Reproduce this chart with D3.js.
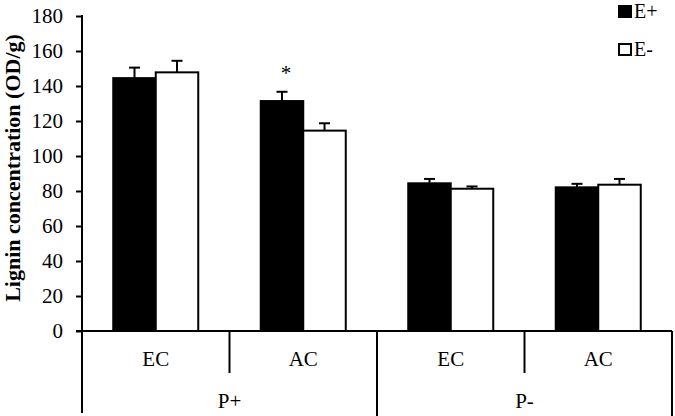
<!DOCTYPE html>
<html>
<head>
<meta charset="utf-8">
<script src="https://cdn.jsdelivr.net/npm/d3@7"></script>
<style>
  body { margin: 0; background: #fff; }
  text { font-family: "Liberation Serif", "Times New Roman", serif; fill: #000; }
</style>
</head>
<body>
<svg id="chart" width="675" height="416"></svg>
<script>
// data
var phosphorus = ["P+", "P-"];
var co2 = ["EC", "AC"];
var series = ["E+", "E-"];
var meanEplus  = [144.5, 131.4, 84.4, 82.1];
var meanEminus = [147.8, 114.5, 81.3, 83.6];
var seEplus    = [6.0, 5.3, 2.5, 2.0];
var seEminus   = [6.6, 4.2, 1.3, 3.3];
var yTicks = [0, 20, 40, 60, 80, 100, 120, 140, 160, 180];
var stars = [null, "*", null, null];   // significance marks over E+ bars

var svg = d3.select("#chart");

// categories = P x CO2
var cats = [];
phosphorus.forEach(function(p){ co2.forEach(function(c){ cats.push({p: p, c: c, key: p + " " + c}); }); });

var x = d3.scaleBand().domain(cats.map(function(d){ return d.key; })).range([82, 672]).padding(0);
var xs = d3.scaleBand().domain(series).range([0, x.bandwidth()]).paddingInner(0).paddingOuter(0.735);
var y = d3.scaleLinear().domain([0, 180]).range([331, 16]);

var colors = {"E+": "#000", "E-": "#fff"};

var rows = [];
cats.forEach(function(c, i){
  rows.push({cat: c.key, s: "E+", v: meanEplus[i], se: seEplus[i], star: stars[i]});
  rows.push({cat: c.key, s: "E-", v: meanEminus[i], se: seEminus[i], star: null});
});

// bars
svg.append("g").selectAll("rect").data(rows).join("rect")
  .attr("x", function(d){ return x(d.cat) + xs(d.s); })
  .attr("y", function(d){ return y(d.v); })
  .attr("width", xs.bandwidth())
  .attr("height", function(d){ return y(0) - y(d.v); })
  .attr("fill", function(d){ return colors[d.s]; })
  .attr("stroke", "#000")
  .attr("stroke-width", 2);

// error bars (upper only)
var eb = svg.append("g").attr("stroke", "#000").attr("stroke-width", 2);
rows.forEach(function(d){
  var cx = x(d.cat) + xs(d.s) + xs.bandwidth() / 2;
  eb.append("line").attr("x1", cx).attr("x2", cx).attr("y1", y(d.v)).attr("y2", y(d.v + d.se));
  eb.append("line").attr("x1", cx - 5.5).attr("x2", cx + 5.5).attr("y1", y(d.v + d.se)).attr("y2", y(d.v + d.se));
  if (d.star) {
    svg.append("text").attr("x", cx + 4).attr("y", y(d.v + d.se) - 12)
      .attr("text-anchor", "middle").style("font-size", "21px").text(d.star);
  }
});

// y axis
var yAxis = svg.append("g").attr("transform", "translate(82,0)")
  .call(d3.axisLeft(y).tickValues(yTicks).tickSize(6).tickPadding(13));
yAxis.select(".domain").remove();
yAxis.selectAll(".tick line").attr("stroke", "#000").attr("stroke-width", 2);
yAxis.selectAll(".tick text").style("font-size", "21px").attr("font-family", null);
svg.append("line").attr("x1", 82).attr("x2", 82).attr("y1", 15).attr("y2", 413)
  .attr("stroke", "#000").attr("stroke-width", 2);

// x axis baseline and category separators
var ax = svg.append("g").attr("stroke", "#000").attr("stroke-width", 2);
ax.append("line").attr("x1", 76).attr("x2", 672).attr("y1", y(0)).attr("y2", y(0));
cats.forEach(function(c, i){
  var right = x(c.key) + x.bandwidth();
  var long = (i % 2 === 1);
  ax.append("line").attr("x1", right).attr("x2", right)
    .attr("y1", y(0)).attr("y2", long ? 416 : 373);
});

svg.append("g").selectAll("text").data(cats).join("text")
  .attr("x", function(d){ return x(d.key) + x.bandwidth() / 2; })
  .attr("y", 366)
  .attr("text-anchor", "middle").style("font-size", "21px")
  .text(function(d){ return d.c; });

svg.append("g").selectAll("text").data(phosphorus).join("text")
  .attr("x", function(p){ return x(p + " " + co2[0]) + x.bandwidth(); })
  .attr("y", 408)
  .attr("text-anchor", "middle").style("font-size", "21px")
  .text(function(p){ return p; });

// y title
svg.append("text")
  .attr("transform", "translate(20,168) rotate(-90)")
  .attr("text-anchor", "middle")
  .style("font-size", "22px").style("font-weight", "bold")
  .text("Lignin concentration (OD/g)");

// legend
var lg = svg.append("g").selectAll("g").data(series).join("g")
  .attr("transform", function(d, i){ return "translate(619," + (6 + i * 38) + ")"; });
lg.append("rect").attr("width", 12).attr("height", 11)
  .attr("fill", function(d){ return colors[d]; })
  .attr("stroke", "#000").attr("stroke-width", 2);
lg.append("text").attr("x", 15).attr("y", 12).style("font-size", "20px")
  .text(function(d){ return d; });
</script>
</body>
</html>
